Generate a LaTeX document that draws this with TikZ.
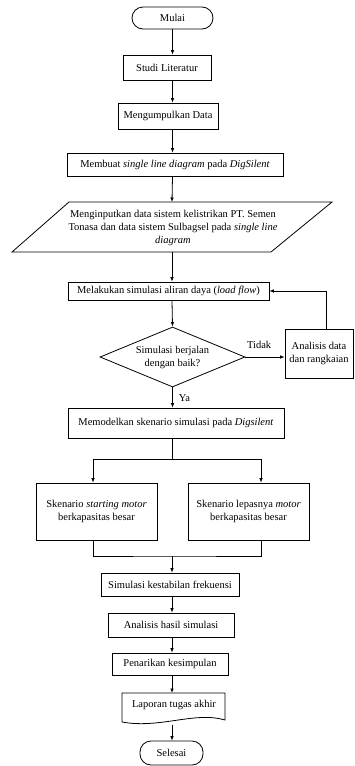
\documentclass[tikz,border=0pt]{standalone}
\usepackage{fontspec}
\setmainfont{Liberation Serif}
\usetikzlibrary{shapes.geometric,arrows.meta}
\begin{document}
\begin{tikzpicture}[x=1pt,y=-1pt,
  every node/.style={font=\fontsize{10.5}{13}\selectfont, inner sep=0pt},
  box/.style={draw, line width=0.8pt, rectangle, align=center, inner xsep=3pt},
  term/.style={draw, line width=0.8pt, rectangle, rounded corners=11pt},
  arr/.style={line width=0.8pt, -{Latex[length=4.5pt,width=3.6pt]}},
  ln/.style={line width=0.8pt}]
\useasboundingbox (0,0) rectangle (354,766);
% nodes
\node[term, minimum width=81pt, minimum height=22pt] (mulai) at (172.5,18) {Mulai};
\node[box, minimum width=88pt, minimum height=25pt] (studi) at (167,67.5) {Studi Literatur};
\node[box, minimum width=100pt, minimum height=26pt] (data) at (168,116) {Mengumpulkan Data};
\node[box, minimum width=216pt, minimum height=23pt] (slb) at (175,164.5) {Membuat \textit{single line diagram} pada \textit{DigSilent}};
% parallelogram
\draw[ln] (12,252) -- (69,202) -- (332,202) -- (271,252) -- cycle;
\node[align=center] (para) at (173,228) {Menginputkan data sistem kelistrikan PT. Semen\\Tonasa dan data sistem Sulbagsel pada \textit{single line}\\\textit{diagram}};
\coordinate (pt) at (172,202);
\coordinate (pb) at (172,252);
\node[box, minimum width=201pt, minimum height=18pt] (lf) at (168.5,291) {Melakukan simulasi aliran daya (\textit{load flow})};
\node[draw, line width=0.8pt, diamond, aspect=2.4, minimum width=145pt, minimum height=60pt, align=center] (dia) at (172.5,357) {Simulasi berjalan\\dengan baik?};
\node[box, inner xsep=0pt, minimum width=68pt, minimum height=49pt] (ana) at (319,353.5) {Analisis data\\dan rangkaian};
\node[box, minimum width=216pt, minimum height=30pt] (mod) at (176,423) {Memodelkan skenario simulasi pada \textit{Digsilent}};
\node[box, minimum width=121pt, minimum height=57pt] (sl) at (96.5,511.5) {Skenario \textit{starting motor}\\berkapasitas besar};
\node[box, minimum width=121pt, minimum height=57pt] (sr) at (248.5,511.5) {Skenario lepasnya \textit{motor}\\berkapasitas besar};
\node[box, minimum width=138pt, minimum height=23pt] (sk) at (170,584.5) {Simulasi kestabilan frekuensi};
\node[box, minimum width=126pt, minimum height=24pt] (ah) at (171,625) {Analisis hasil simulasi};
\node[box, minimum width=116pt, minimum height=22pt] (pk) at (170,664) {Penarikan kesimpulan};
% document shape
\draw[ln] (122,693) -- (225,693) -- (225,720) .. controls (195,711) and (160,729) .. (122,722) -- cycle;
\node (lap) at (174,705) {Laporan tugas akhir};
\coordinate (lapt) at (172,693);
\coordinate (lapb) at (172,724.5);
\node[term, minimum width=63pt, minimum height=24pt] (sel) at (171.5,753) {Selesai};
% connectors
\draw[arr] (mulai.south) -- (mulai.south |- studi.north);
\draw[arr] (mulai.south |- studi.south) -- (mulai.south |- data.north);
\draw[arr] (mulai.south |- data.south) -- (mulai.south |- slb.north);
\draw[arr] (mulai.south |- slb.south) -- (pt);
\draw[arr] (pb) -- (pb |- lf.north);
\draw[arr] (pb |- lf.south) -- (dia.north);
\draw[arr] (dia.east) -- (dia.east -| ana.west) node[pos=0.35, above=8pt] {Tidak};
\draw[arr] ([xshift=7pt]ana.north) |- (lf.east);
\draw[arr] (dia.south) -- (dia.south |- mod.north) node[pos=0.55, right=6pt] {Ya};
\coordinate (bt) at (172,459);
\coordinate (bb) at (172,556);
\draw[ln] (mod.south -| bt) -- (bt);
\draw[arr] (bt) -| ([xshift=-3.5pt]sl.north);
\draw[arr] (bt) -| ([xshift=12.5pt]sr.north);
\draw[ln] ([xshift=-3.5pt]sl.south) |- (bb) -| ([xshift=12.5pt]sr.south);
\draw[arr] (bb) -- (bb |- sk.north);
\draw[arr] (bb |- sk.south) -- (bb |- ah.north);
\draw[arr] (bb |- ah.south) -- (bb |- pk.north);
\draw[arr] (bb |- pk.south) -- (lapt);
\draw[arr] (lapb) -- (lapb |- sel.north);
\end{tikzpicture}
\end{document}
